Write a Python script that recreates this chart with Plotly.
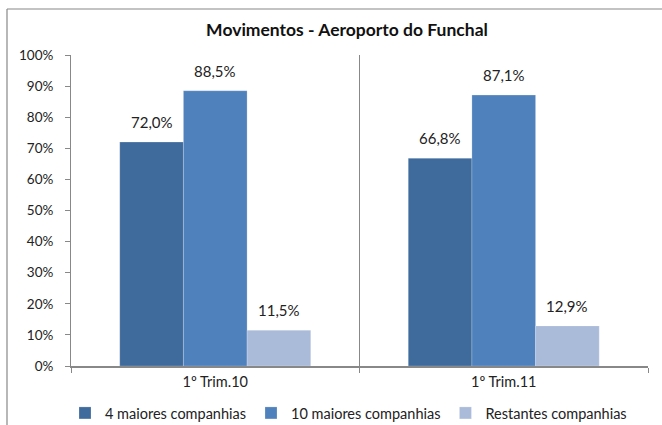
import plotly.graph_objects as go

categories = ["1º Trim.10", "1º Trim.11"]
series_names = ["4 maiores companhias", "10 maiores companhias", "Restantes companhias"]
v4 = [72.0, 66.8]
v10 = [88.5, 87.1]
vrest = [11.5, 12.9]
y_ticks = [0, 10, 20, 30, 40, 50, 60, 70, 80, 90, 100]

colors = ["#3F6A9C", "#4F81BD", "#AABBDA"]
FONT = "Lato, 'Open Sans', sans-serif"

W, H = 662, 425
ML, MR, MT, MB = 71, 14, 55, 59
PW, PH = W - ML - MR, H - MT - MB
BARGAP = 0.338
BAR_W = PW / 2 * (1 - BARGAP) / 3

fig = go.Figure()
annotations = []
for i, (name, vals, col) in enumerate(zip(series_names, [v4, v10, vrest], colors)):
    fig.add_trace(go.Bar(
        x=categories, y=vals, name=name,
        marker=dict(color=col, line=dict(color="rgba(255,255,255,0.35)", width=0.6)),
    ))
    for c, v in zip(categories, vals):
        annotations.append(dict(
            x=c, y=v, xref="x", yref="y", text=f"{v:.1f}%".replace(".", ","),
            showarrow=False, xshift=(i - 1) * BAR_W, yshift=20, yanchor="middle",
            font=dict(size=15, color="#222", family=FONT),
        ))

fig.update_layout(
    width=W, height=H,
    margin=dict(l=ML, r=MR, t=MT, b=MB, autoexpand=False),
    paper_bgcolor="white", plot_bgcolor="white",
    barmode="group", bargap=BARGAP, bargroupgap=0,
    font=dict(family=FONT, size=13, color="#222"),
    title=dict(text="<b>Movimentos - Aeroporto do Funchal</b>", x=(347) / W, xanchor="center",
               y=1 - 30 / H, yanchor="middle", font=dict(size=17.5, color="#111", family=FONT)),
    showlegend=True,
    legend=dict(orientation="h", x=(65 - ML) / PW, xanchor="left", y=(366 - 413) / PH, yanchor="middle",
                font=dict(size=14.5, family=FONT), itemwidth=30, tracegroupgap=0,
                traceorder="normal"),
    xaxis=dict(
        tickson="boundaries", showgrid=True, gridcolor="#888", gridwidth=1,
        ticks="outside", ticklen=5, tickcolor="#888",
        showline=True, linecolor="#888", linewidth=1.5,
        tickfont=dict(size=14.5), ticklabelstandoff=2,
    ),
    yaxis=dict(
        range=[0, 100], tickvals=y_ticks, ticktext=[f"{t}%" for t in y_ticks],
        showgrid=False, zeroline=False,
        ticks="outside", ticklen=5, tickcolor="#888",
        showline=True, linecolor="#888", linewidth=1,
        tickfont=dict(size=13.5), ticklabelstandoff=9,
    ),
    annotations=annotations,
    shapes=[
        dict(type="line", xref="paper", yref="paper", x0=(7 - ML) / PW, x1=(W + 5 - ML) / PW,
             y0=(H - MB - 9) / PH, y1=(H - MB - 9) / PH, line=dict(color="#888", width=1.2)),
        dict(type="line", xref="paper", yref="paper", x0=(7 - ML) / PW, x1=(7 - ML) / PW,
             y0=-(MB + 5) / PH, y1=(H - MB - 9) / PH, line=dict(color="#888", width=1.2)),
    ],
)

fig.write_html("out.html", config={"displayModeBar": False},
               post_script="document.body.style.margin='0';document.body.style.overflow='hidden';")
